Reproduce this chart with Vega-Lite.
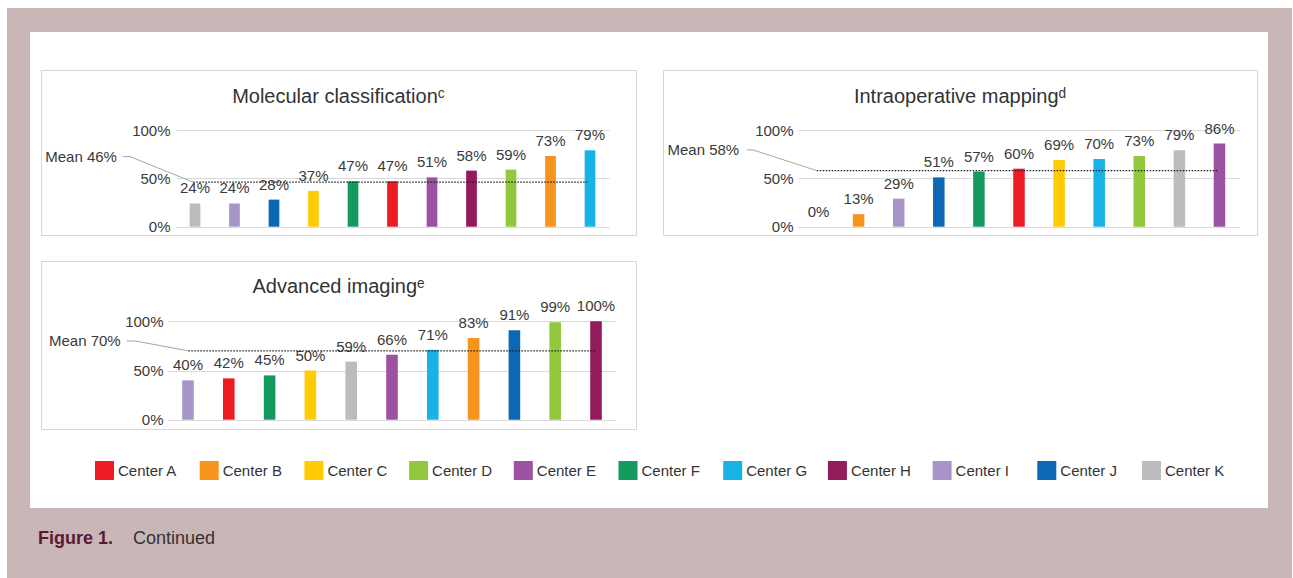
{
  "$schema": "https://vega.github.io/schema/vega-lite/v6.json",
  "background": "white",
  "padding": {"left": 7, "top": 8, "right": 1, "bottom": 0},
  "spacing": 0,
  "bounds": "full",
  "resolve": {"scale": {"color": "independent", "x": "independent"}, "legend": {"color": "independent"}},
  "config": {
    "view": {"stroke": "transparent", "strokeWidth": 0},
    "font": "Liberation Sans",
    "concat": {"spacing": 0},
    "axis": {"labelFont": "Liberation Sans"},
    "legend": {"labelFont": "Liberation Sans"}
  },
  "datasets": {
    "mol": [
      {"center": "Center K", "share": 0.24},
      {"center": "Center I", "share": 0.24},
      {"center": "Center J", "share": 0.28},
      {"center": "Center C", "share": 0.37},
      {"center": "Center F", "share": 0.47},
      {"center": "Center A", "share": 0.47},
      {"center": "Center E", "share": 0.51},
      {"center": "Center H", "share": 0.58},
      {"center": "Center D", "share": 0.59},
      {"center": "Center B", "share": 0.73},
      {"center": "Center G", "share": 0.79}
    ],
    "intra": [
      {"center": "Center H", "share": 0.0},
      {"center": "Center B", "share": 0.13},
      {"center": "Center I", "share": 0.29},
      {"center": "Center J", "share": 0.51},
      {"center": "Center F", "share": 0.57},
      {"center": "Center A", "share": 0.60},
      {"center": "Center C", "share": 0.69},
      {"center": "Center G", "share": 0.70},
      {"center": "Center D", "share": 0.73},
      {"center": "Center K", "share": 0.79},
      {"center": "Center E", "share": 0.86}
    ],
    "adv": [
      {"center": "Center I", "share": 0.40},
      {"center": "Center A", "share": 0.42},
      {"center": "Center F", "share": 0.45},
      {"center": "Center C", "share": 0.50},
      {"center": "Center K", "share": 0.59},
      {"center": "Center E", "share": 0.66},
      {"center": "Center G", "share": 0.71},
      {"center": "Center B", "share": 0.83},
      {"center": "Center J", "share": 0.91},
      {"center": "Center D", "share": 0.99},
      {"center": "Center H", "share": 1.0}
    ],
    "centers": [
      {"center": "Center A"}, {"center": "Center B"}, {"center": "Center C"},
      {"center": "Center D"}, {"center": "Center E"}, {"center": "Center F"},
      {"center": "Center G"}, {"center": "Center H"}, {"center": "Center I"},
      {"center": "Center J"}, {"center": "Center K"}
    ]
  },
  "vconcat": [
    {"width": 1285, "height": 24, "data": {"values": []}, "mark": "point", "view": {"fill": "#c9b6b6", "stroke": "transparent", "strokeWidth": 0}},
    {
      "hconcat": [
        {"width": 23, "height": 476, "data": {"values": []}, "mark": "point", "view": {"fill": "#c9b6b6", "stroke": "transparent", "strokeWidth": 0}},
        {
          "vconcat": [
            {"width": 1238, "height": 36.5, "data": {"values": []}, "mark": "point"},
            {
              "hconcat": [
                {"width": 11, "height": 165, "data": {"values": []}, "mark": "point"},
                {
                  "width": 595, "height": 165,
                  "view": {"fill": "white", "stroke": "#d6d6d6", "strokeWidth": 1},
                  "title": {"text": "Molecular classificationᶜ", "offset": -37, "fontSize": 20, "fontWeight": "normal", "color": "#333333", "anchor": "middle", "font": "Liberation Sans"},
                  "layer": [
                    {
                      "data": {"name": "mol"},
                      "mark": {"type": "bar"},
                      "encoding": {
                        "x": {"field": "center", "type": "nominal", "axis": null,
                          "scale": {"domain": ["Center K", "Center I", "Center J", "Center C", "Center F", "Center A", "Center E", "Center H", "Center D", "Center B", "Center G"], "range": [135, 568], "paddingInner": 0.729, "paddingOuter": 0.345}},
                        "y": {"field": "share", "type": "quantitative",
                          "scale": {"domain": [0, 1], "range": [156.7, 60], "nice": false},
                          "axis": {"values": [0, 0.5, 1], "format": ".0%", "offset": -135, "title": null, "domain": false, "ticks": false, "tickSize": 0, "labelPadding": 6, "labelFontSize": 15, "labelColor": "#3a3a3a", "grid": true, "gridColor": "#d9d9d9"}},
                        "color": {"field": "center", "type": "nominal", "legend": null,
                          "scale": {"domain": ["Center A", "Center B", "Center C", "Center D", "Center E", "Center F", "Center G", "Center H", "Center I", "Center J", "Center K"],
                            "range": ["#ed1c24", "#f7941d", "#ffcb05", "#92c73e", "#9b52a0", "#14995f", "#17b3e6", "#931a5b", "#a795c8", "#0c68b4", "#bcbcbc"]}}
                      }
                    },
                    {
                      "data": {"name": "mol"},
                      "mark": {"type": "text", "dy": -15, "baseline": "middle", "fontSize": 15, "color": "#3a3a3a"},
                      "encoding": {
                        "x": {"field": "center", "type": "nominal", "axis": null},
                        "y": {"field": "share", "type": "quantitative"},
                        "text": {"field": "share", "type": "quantitative", "format": ".0%"}
                      }
                    },
                    {
                      "data": {"values": [{"mean": 0.46, "label": "Mean 46%"}]},
                      "mark": {"type": "rule", "strokeDash": [1.5, 1.5], "strokeWidth": 1.3, "color": "#1a1a1a"},
                      "encoding": {"x": {"datum": "Center K", "bandPosition": 0.34}, "x2": {"datum": "Center G", "bandPosition": 0.25}, "y": {"field": "mean", "type": "quantitative"}}
                    },
                    {
                      "data": {"values": [{"mean": 0.46, "label": "Mean 46%"}]},
                      "mark": {"type": "rule", "strokeWidth": 1, "color": "#a6a6a6"},
                      "encoding": {"x": {"datum": "Center K", "bandPosition": -6.23}, "x2": {"datum": "Center K", "bandPosition": -5.57}, "y": {"datum": 0.725}}
                    },
                    {
                      "data": {"values": [{"mean": 0.46, "label": "Mean 46%"}]},
                      "mark": {"type": "rule", "strokeWidth": 1, "color": "#a6a6a6"},
                      "encoding": {"x": {"datum": "Center K", "bandPosition": 0.34}, "x2": {"datum": "Center K", "bandPosition": -5.57}, "y": {"field": "mean", "type": "quantitative"}, "y2": {"datum": 0.725}}
                    },
                    {
                      "data": {"values": [{"mean": 0.46, "label": "Mean 46%"}]},
                      "mark": {"type": "text", "align": "right", "baseline": "middle", "dx": -6, "fontSize": 15, "color": "#3a3a3a"},
                      "encoding": {"x": {"datum": "Center K", "bandPosition": -6.23}, "y": {"datum": 0.725}, "text": {"field": "label", "type": "nominal"}}
                    }
                  ]
                },
                {"width": 27, "height": 165, "data": {"values": []}, "mark": "point"},
                {
                  "width": 594, "height": 165,
                  "view": {"fill": "white", "stroke": "#d6d6d6", "strokeWidth": 1},
                  "title": {"text": "Intraoperative mappingᵈ", "offset": -37, "fontSize": 20, "fontWeight": "normal", "color": "#333333", "anchor": "middle", "font": "Liberation Sans"},
                  "layer": [
                    {
                      "data": {"name": "intra"},
                      "mark": {"type": "bar"},
                      "encoding": {
                        "x": {"field": "center", "type": "nominal", "axis": null,
                          "scale": {"domain": ["Center H", "Center B", "Center I", "Center J", "Center F", "Center A", "Center C", "Center G", "Center D", "Center K", "Center E"], "range": [135, 577], "paddingInner": 0.713, "paddingOuter": 0.368}},
                        "y": {"field": "share", "type": "quantitative",
                          "scale": {"domain": [0, 1], "range": [156.7, 60], "nice": false},
                          "axis": {"values": [0, 0.5, 1], "format": ".0%", "offset": -135, "title": null, "domain": false, "ticks": false, "tickSize": 0, "labelPadding": 5, "labelFontSize": 15, "labelColor": "#3a3a3a", "grid": true, "gridColor": "#d9d9d9"}},
                        "color": {"field": "center", "type": "nominal", "legend": null,
                          "scale": {"domain": ["Center A", "Center B", "Center C", "Center D", "Center E", "Center F", "Center G", "Center H", "Center I", "Center J", "Center K"],
                            "range": ["#ed1c24", "#f7941d", "#ffcb05", "#92c73e", "#9b52a0", "#14995f", "#17b3e6", "#931a5b", "#a795c8", "#0c68b4", "#bcbcbc"]}}
                      }
                    },
                    {
                      "data": {"name": "intra"},
                      "mark": {"type": "text", "dy": -15, "baseline": "middle", "fontSize": 15, "color": "#3a3a3a"},
                      "encoding": {
                        "x": {"field": "center", "type": "nominal", "axis": null},
                        "y": {"field": "share", "type": "quantitative"},
                        "text": {"field": "share", "type": "quantitative", "format": ".0%"}
                      }
                    },
                    {
                      "data": {"values": [{"mean": 0.58, "label": "Mean 58%"}]},
                      "mark": {"type": "rule", "strokeDash": [1.5, 1.5], "strokeWidth": 1.3, "color": "#1a1a1a"},
                      "encoding": {"x": {"datum": "Center H", "bandPosition": 0.34}, "x2": {"datum": "Center E", "bandPosition": 0.34}, "y": {"field": "mean", "type": "quantitative"}}
                    },
                    {
                      "data": {"values": [{"mean": 0.58, "label": "Mean 58%"}]},
                      "mark": {"type": "rule", "strokeWidth": 1, "color": "#a6a6a6"},
                      "encoding": {"x": {"datum": "Center H", "bandPosition": -5.74}, "x2": {"datum": "Center H", "bandPosition": -5.19}, "y": {"datum": 0.794}}
                    },
                    {
                      "data": {"values": [{"mean": 0.58, "label": "Mean 58%"}]},
                      "mark": {"type": "rule", "strokeWidth": 1, "color": "#a6a6a6"},
                      "encoding": {"x": {"datum": "Center H", "bandPosition": 0.34}, "x2": {"datum": "Center H", "bandPosition": -5.19}, "y": {"field": "mean", "type": "quantitative"}, "y2": {"datum": 0.794}}
                    },
                    {
                      "data": {"values": [{"mean": 0.58, "label": "Mean 58%"}]},
                      "mark": {"type": "text", "align": "right", "baseline": "middle", "dx": -7.5, "fontSize": 15, "color": "#3a3a3a"},
                      "encoding": {"x": {"datum": "Center H", "bandPosition": -5.74}, "y": {"datum": 0.794}, "text": {"field": "label", "type": "nominal"}}
                    }
                  ]
                },
                {"width": 11, "height": 165, "data": {"values": []}, "mark": "point"}
              ],
              "spacing": 0,
              "bounds": "flush",
              "resolve": {"scale": {"color": "independent"}, "legend": {"color": "independent"}}
            },
            {"width": 1238, "height": 24, "data": {"values": []}, "mark": "point"},
            {
              "hconcat": [
                {"width": 11, "height": 168, "data": {"values": []}, "mark": "point"},
                {
                  "width": 595, "height": 168,
                  "view": {"fill": "white", "stroke": "#d6d6d6", "strokeWidth": 1},
                  "title": {"text": "Advanced imagingᵉ", "offset": -36, "fontSize": 20, "fontWeight": "normal", "color": "#333333", "anchor": "middle", "font": "Liberation Sans"},
                  "layer": [
                    {
                      "data": {"name": "adv"},
                      "mark": {"type": "bar"},
                      "encoding": {
                        "x": {"field": "center", "type": "nominal", "axis": null,
                          "scale": {"domain": ["Center I", "Center A", "Center F", "Center C", "Center K", "Center E", "Center G", "Center B", "Center J", "Center D", "Center H"], "range": [127, 575], "paddingInner": 0.716, "paddingOuter": 0.348}},
                        "y": {"field": "share", "type": "quantitative",
                          "scale": {"domain": [0, 1], "range": [158.7, 60.3], "nice": false},
                          "axis": {"values": [0, 0.5, 1], "format": ".0%", "offset": -127, "title": null, "domain": false, "ticks": false, "tickSize": 0, "labelPadding": 5, "labelFontSize": 15, "labelColor": "#3a3a3a", "grid": true, "gridColor": "#d9d9d9"}},
                        "color": {"field": "center", "type": "nominal", "legend": null,
                          "scale": {"domain": ["Center A", "Center B", "Center C", "Center D", "Center E", "Center F", "Center G", "Center H", "Center I", "Center J", "Center K"],
                            "range": ["#ed1c24", "#f7941d", "#ffcb05", "#92c73e", "#9b52a0", "#14995f", "#17b3e6", "#931a5b", "#a795c8", "#0c68b4", "#bcbcbc"]}}
                      }
                    },
                    {
                      "data": {"name": "adv"},
                      "mark": {"type": "text", "dy": -15, "baseline": "middle", "fontSize": 15, "color": "#3a3a3a"},
                      "encoding": {
                        "x": {"field": "center", "type": "nominal", "axis": null},
                        "y": {"field": "share", "type": "quantitative"},
                        "text": {"field": "share", "type": "quantitative", "format": ".0%"}
                      }
                    },
                    {
                      "data": {"values": [{"mean": 0.70, "label": "Mean 70%"}]},
                      "mark": {"type": "rule", "strokeDash": [1.5, 1.5], "strokeWidth": 1.3, "color": "#1a1a1a"},
                      "encoding": {"x": {"datum": "Center I", "bandPosition": 0.53}, "x2": {"datum": "Center H", "bandPosition": 0.41}, "y": {"field": "mean", "type": "quantitative"}}
                    },
                    {
                      "data": {"values": [{"mean": 0.70, "label": "Mean 70%"}]},
                      "mark": {"type": "rule", "strokeWidth": 1, "color": "#a6a6a6"},
                      "encoding": {"x": {"datum": "Center I", "bandPosition": -4.79}, "x2": {"datum": "Center I", "bandPosition": -4.07}, "y": {"datum": 0.8}}
                    },
                    {
                      "data": {"values": [{"mean": 0.70, "label": "Mean 70%"}]},
                      "mark": {"type": "rule", "strokeWidth": 1, "color": "#a6a6a6"},
                      "encoding": {"x": {"datum": "Center I", "bandPosition": 0.53}, "x2": {"datum": "Center I", "bandPosition": -4.07}, "y": {"field": "mean", "type": "quantitative"}, "y2": {"datum": 0.8}}
                    },
                    {
                      "data": {"values": [{"mean": 0.70, "label": "Mean 70%"}]},
                      "mark": {"type": "text", "align": "right", "baseline": "middle", "dx": -6, "fontSize": 15, "color": "#3a3a3a"},
                      "encoding": {"x": {"datum": "Center I", "bandPosition": -4.79}, "y": {"datum": 0.8}, "text": {"field": "label", "type": "nominal"}}
                    }
                  ]
                },
                {"width": 632, "height": 168, "data": {"values": []}, "mark": "point"}
              ],
              "spacing": 0,
              "bounds": "flush",
              "resolve": {"scale": {"color": "independent"}, "legend": {"color": "independent"}}
            },
            {
              "hconcat": [
                {"width": 34, "height": 72, "data": {"values": []}, "mark": "point"},
                {
                  "width": 1204, "height": 72,
                  "data": {"name": "centers"},
                  "mark": {"type": "square", "size": 0},
                  "encoding": {
                    "color": {"field": "center", "type": "nominal",
                      "scale": {"domain": ["Center A", "Center B", "Center C", "Center D", "Center E", "Center F", "Center G", "Center H", "Center I", "Center J", "Center K"],
                        "range": ["#ed1c24", "#f7941d", "#ffcb05", "#92c73e", "#9b52a0", "#14995f", "#17b3e6", "#931a5b", "#a795c8", "#0c68b4", "#bcbcbc"]},
                      "legend": {"orient": "top-left", "offset": 31, "direction": "horizontal", "columns": 11, "gridAlign": "all", "columnPadding": 20.7, "symbolType": "square", "symbolSize": 361, "symbolStrokeWidth": 0, "symbolOpacity": 1, "labelFontSize": 15, "labelColor": "#333333", "labelOffset": 4, "title": null, "padding": 0}}
                  }
                }
              ],
              "spacing": 0,
              "bounds": "flush",
              "resolve": {"scale": {"color": "independent"}, "legend": {"color": "independent"}}
            }
          ],
          "spacing": 0,
          "bounds": "full",
          "resolve": {"scale": {"color": "independent"}, "legend": {"color": "independent"}}
        },
        {"width": 24, "height": 476, "data": {"values": []}, "mark": "point", "view": {"fill": "#c9b6b6", "stroke": "transparent", "strokeWidth": 0}}
      ],
      "spacing": 0,
      "bounds": "full",
      "resolve": {"scale": {"color": "independent"}, "legend": {"color": "independent"}}
    },
    {
      "width": 1285, "height": 70,
      "view": {"fill": "#c9b6b6", "stroke": "transparent", "strokeWidth": 0},
      "data": {"values": [{"slot": "a", "label": "Figure 1."}, {"slot": "b", "label": "Continued"}]},
      "layer": [
        {"transform": [{"filter": "datum.slot === 'a'"}],
          "mark": {"type": "text", "align": "left", "baseline": "middle", "dy": -4, "fontSize": 18, "fontWeight": "bold", "color": "#5b1a33"},
          "encoding": {"x": {"field": "slot", "type": "nominal", "axis": null, "scale": {"type": "point", "padding": 0, "domain": ["a", "b"], "range": [31, 126]}}, "text": {"field": "label", "type": "nominal"}}},
        {"transform": [{"filter": "datum.slot === 'b'"}],
          "mark": {"type": "text", "align": "left", "baseline": "middle", "dy": -4, "fontSize": 18, "color": "#333333"},
          "encoding": {"x": {"field": "slot", "type": "nominal", "axis": null}, "text": {"field": "label", "type": "nominal"}}}
      ]
    }
  ]
}
